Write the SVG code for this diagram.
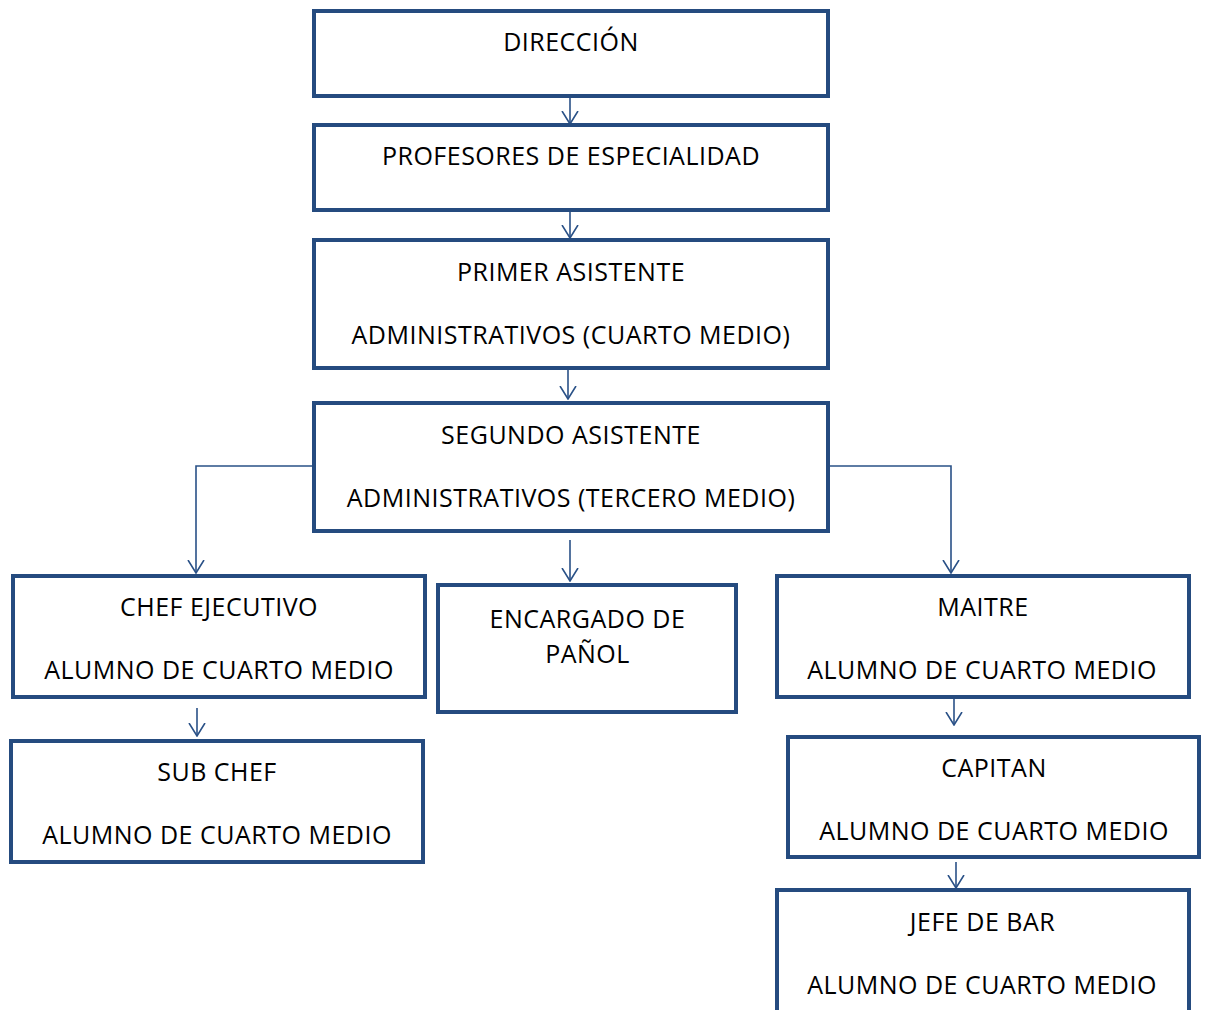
<svg xmlns="http://www.w3.org/2000/svg" width="1206" height="1010" viewBox="0 0 1206 1010">
<defs>
<style>
.box{fill:#fff;stroke:#254b7f;stroke-width:4;}
.t{font-family:"Open Sans","Noto Sans",sans-serif;font-size:25px;letter-spacing:0.5px;fill:#000;text-anchor:middle;}
.c{fill:none;stroke:#2a5187;stroke-width:1.6;}
</style>
<marker id="ah" viewBox="0 0 14 18" refX="13" refY="9" markerWidth="14" markerHeight="18" markerUnits="userSpaceOnUse" orient="auto">
<path d="M0,1 L13,9 L0,17" fill="none" stroke="#2a5187" stroke-width="1.6"/>
</marker>
</defs>
<rect width="1206" height="1010" fill="#fff"/>
<g id="connectors">
<path class="c" d="M570,96 V124" marker-end="url(#ah)"/>
<path class="c" d="M570,210 V238" marker-end="url(#ah)"/>
<path class="c" d="M568,368 V399" marker-end="url(#ah)"/>
<path class="c" d="M570,540 V581" marker-end="url(#ah)"/>
<path class="c" d="M313,466 H196 V573" marker-end="url(#ah)"/>
<path class="c" d="M829,466 H951 V573" marker-end="url(#ah)"/>
<path class="c" d="M197,708 V736" marker-end="url(#ah)"/>
<path class="c" d="M954,698 V725" marker-end="url(#ah)"/>
<path class="c" d="M956,862 V888" marker-end="url(#ah)"/>
</g>
<g id="direccion"><rect class="box" x="314" y="11" width="514" height="85"/><text class="t" x="571" y="51">DIRECCIÓN</text></g>
<g id="profesores"><rect class="box" x="314" y="125" width="514" height="85"/><text class="t" x="571" y="165">PROFESORES DE ESPECIALIDAD</text></g>
<g id="primer"><rect class="box" x="314" y="240" width="514" height="128"/><text class="t" x="571" y="281">PRIMER ASISTENTE</text><text class="t" x="571" y="344">ADMINISTRATIVOS (CUARTO MEDIO)</text></g>
<g id="segundo"><rect class="box" x="314" y="403" width="514" height="128"/><text class="t" x="571" y="444">SEGUNDO ASISTENTE</text><text class="t" x="571" y="507">ADMINISTRATIVOS (TERCERO MEDIO)</text></g>
<g id="chef"><rect class="box" x="13" y="576" width="412" height="121"/><text class="t" x="219" y="616">CHEF EJECUTIVO</text><text class="t" x="219" y="679">ALUMNO DE CUARTO MEDIO</text></g>
<g id="encargado"><rect class="box" x="438" y="585" width="298" height="127"/><text class="t" x="587.5" y="628">ENCARGADO DE</text><text class="t" x="587.5" y="663">PAÑOL</text></g>
<g id="maitre"><rect class="box" x="777" y="576" width="412" height="121"/><text class="t" x="983" y="616">MAITRE</text><text class="t" x="982" y="679">ALUMNO DE CUARTO MEDIO</text></g>
<g id="subchef"><rect class="box" x="11" y="741" width="412" height="121"/><text class="t" x="217" y="781">SUB CHEF</text><text class="t" x="217" y="844">ALUMNO DE CUARTO MEDIO</text></g>
<g id="capitan"><rect class="box" x="788" y="737" width="411" height="120"/><text class="t" x="994" y="777">CAPITAN</text><text class="t" x="994" y="840">ALUMNO DE CUARTO MEDIO</text></g>
<g id="jefebar"><rect class="box" x="777" y="890" width="412" height="140"/><text class="t" x="982.5" y="931">JEFE DE BAR</text><text class="t" x="982" y="994">ALUMNO DE CUARTO MEDIO</text></g>
</svg>
